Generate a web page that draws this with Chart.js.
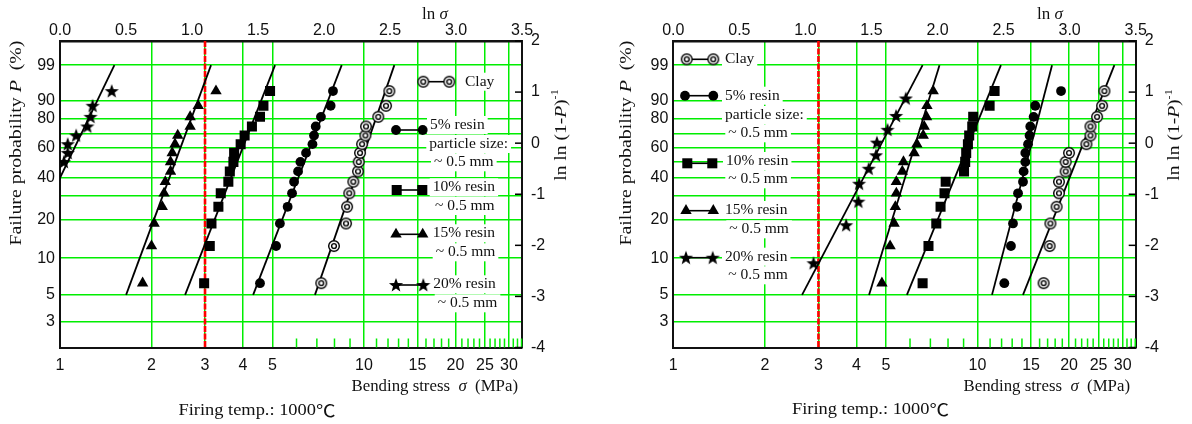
<!DOCTYPE html>
<html>
<head>
<meta charset="utf-8">
<script src="https://cdn.jsdelivr.net/npm/chart.js@4.4.1/dist/chart.umd.min.js"></script>
<style>
    html, body { margin: 0; padding: 0; background: #fff; }
    #wrap { position: relative; width: 1192px; height: 424px; }
    canvas { position: absolute; top: 0; }
    #left { left: 0; }
    #right { left: 596px; }
</style>
</head>
<body>
<div id="wrap">
    <canvas id="left" width="596" height="424"></canvas>
    <canvas id="right" width="596" height="424"></canvas>
</div>
<script>
// failure probability of each rank (%), i/(n+1)
const rank15 = [6.25, 12.5, 18.75, 25, 31.25, 37.5, 43.75, 50, 56.25, 62.5, 68.75, 75, 81.25, 87.5, 93.75];
const rank15Upper = [50, 56.25, 62.5, 68.75, 75, 81.25, 87.5, 93.75];
const rank10 = [9.09, 18.18, 27.27, 36.36, 45.45, 54.55, 63.64, 72.73, 81.82, 90.91];

// fitted lines run from P = 5 % to P = 99 %
const fitP = [5, 99];

// left plot: bending stress (MPa)
const clayLeft = [7.24, 7.97, 8.73, 8.80, 8.95, 9.23, 9.56, 9.61, 9.71, 9.86, 10.11, 10.16, 11.15, 11.82, 12.12];
const resin5Left = [4.55, 5.14, 5.29, 5.61, 5.80, 5.89, 6.07, 6.18, 6.45, 6.77, 6.85, 6.94, 7.22, 7.77, 7.91];
const resin10Left = [2.98, 3.11, 3.15, 3.32, 3.38, 3.58, 3.62, 3.72, 3.74, 3.93, 4.05, 4.28, 4.55, 4.67, 4.91];
const resin15Left = [1.87, 2.00, 2.04, 2.17, 2.20, 2.22, 2.31, 2.31, 2.34, 2.39, 2.44, 2.68, 2.68, 2.85, 3.26];
const resin20Left = [1.03, 1.06, 1.06, 1.13, 1.23, 1.26, 1.28, 1.48];

const clayLeftFit = [6.90, 12.59];
const resin5LeftFit = [4.32, 8.45];
const resin10LeftFit = [2.58, 5.10];
const resin15LeftFit = [1.65, 3.14];
const resin20LeftFit = [0.652, 1.51];

// right plot: bending stress (MPa)
const clayRight = [16.49, 17.26, 17.36, 18.20, 18.53, 18.53, 19.49, 19.49, 19.99, 22.80, 23.52, 23.52, 24.73, 25.68, 26.13];
const resin5Right = [12.25, 12.88, 13.08, 13.49, 13.59, 14.11, 14.18, 14.36, 14.36, 14.66, 14.83, 14.91, 15.29, 15.48, 18.82];
const resin10Right = [6.60, 6.90, 7.32, 7.56, 7.79, 7.86, 9.03, 9.11, 9.18, 9.30, 9.39, 9.61, 9.68, 10.96, 11.38];
const resin15Right = [4.85, 5.16, 5.32, 5.37, 5.41, 5.41, 5.66, 5.71, 6.19, 6.32, 6.63, 6.68, 6.80, 6.82, 7.15];
const resin20Right = [2.89, 3.70, 4.06, 4.08, 4.39, 4.64, 4.67, 5.06, 5.40, 5.81];

const clayRightFit = [14.11, 28.18];
const resin5RightFit = [11.16, 17.58];
const resin10RightFit = [5.86, 11.94];
const resin15RightFit = [4.40, 7.50];
const resin20RightFit = [2.65, 6.60];

// axis ticks
const stressTicks = [1, 2, 3, 4, 5, 10, 15, 20, 25, 30];
const stressMinor = [6, 7, 8, 9, 11, 12, 13, 14, 16, 17, 18, 19, 21, 22, 23, 24, 26, 27, 28, 29, 31, 32, 33];
const probGrid = [99, 90, 80, 70, 60, 50, 40, 30, 20, 10, 5, 3];
const probLabels = [99, 90, 80, 60, 40, 20, 10, 5, 3];
const weibTicks = [-4, -3, -2, -1, 0, 1, 2];
const redLineStress = 3;

const legendText = {
    clay: ["Clay"],
    r5: ["5% resin", "particle size:", "~ 0.5 mm"],
    r10: ["10% resin", "~ 0.5 mm"],
    r15: ["15% resin", "~ 0.5 mm"],
    r20: ["20% resin", "~ 0.5 mm"]
};

const serif = '"Liberation Serif", "Times New Roman", serif';
const sans = '"Liberation Sans", Arial, sans-serif';
const green = "rgb(0, 238, 0)";
const weibull = p => Math.log(-Math.log(1 - p / 100));

function markerCanvas(size, paint) {
    const c = document.createElement("canvas");
    c.width = size;
    c.height = size;
    paint(c.getContext("2d"), size / 2);
    return c;
}

// double ring used for clay
const ringMarker = markerCanvas(14, (g, m) => {
    g.fillStyle = "#fff";
    g.beginPath(); g.arc(m, m, 5.4, 0, Math.PI * 2); g.fill();
    g.strokeStyle = "#000";
    g.lineWidth = 1.4;
    g.beginPath(); g.arc(m, m, 5.3, 0, Math.PI * 2); g.stroke();
    g.beginPath(); g.arc(m, m, 2.4, 0, Math.PI * 2); g.stroke();
});

// filled five-point star
const starMarker = markerCanvas(18, (g, m) => {
    g.fillStyle = "#000";
    g.beginPath();
    for (let i = 0; i < 10; i++) {
        const r = i % 2 ? 3.1 : 7.4;
        const a = -Math.PI / 2 + i * Math.PI / 5;
        g.lineTo(m + r * Math.cos(a), m + 0.5 + r * Math.sin(a));
    }
    g.closePath();
    g.fill();
});

const markers = {
    clay: { style: ringMarker, radius: 6 },
    r5: { style: "circle", radius: 4.9 },
    r10: { style: "rect", radius: 7.1 },
    r15: { style: "triangle", radius: 6.6 },
    r20: { style: starMarker, radius: 7 }
};

function drawRich(ctx, segs, x, y, opts) {
    const size = opts.size;
    const fontOf = kind => {
        if (kind === "i") return `italic ${size}px ${serif}`;
        if (kind === "sup") return `${Math.round(size * 0.62)}px ${serif}`;
        if (kind === "cjk") return `${size + 1}px "Noto Sans CJK SC", ${serif}`;
        return `${size}px ${serif}`;
    };
    ctx.save();
    ctx.translate(x, y);
    if (opts.angle) ctx.rotate(opts.angle);
    ctx.scale(opts.stretch || 1, 1);
    let total = 0;
    const widths = segs.map(([t, kind]) => {
        ctx.font = fontOf(kind);
        const w = ctx.measureText(t).width;
        total += w;
        return w;
    });
    let cx = opts.align === "center" ? -total / 2 : opts.align === "right" ? -total : 0;
    ctx.textAlign = "left";
    ctx.textBaseline = "middle";
    ctx.fillStyle = "#111";
    segs.forEach(([t, kind], i) => {
        ctx.font = fontOf(kind);
        ctx.fillText(t, cx, kind === "sup" ? -size * 0.38 : 0);
        cx += widths[i];
    });
    ctx.restore();
}

function makePanel(canvasId, series, frame, legendPos, labelPos) {
    const datasets = [];
    series.forEach(s => {
        datasets.push({
            data: s.fit.map((v, i) => ({ x: v, y: weibull(fitP[i]) })),
            showLine: true,
            pointRadius: 0,
            borderColor: "#000",
            borderWidth: 1.8,
            order: 1
        });
        datasets.push({
            data: s.sigma.map((v, i) => ({ x: v, y: weibull(s.prob[i]) })),
            pointStyle: markers[s.key].style,
            pointRadius: markers[s.key].radius,
            backgroundColor: "#000",
            borderColor: "#000",
            borderWidth: 0,
            order: 0
        });
    });

    const tickFont = { family: sans, size: 16 };

    // stubs, inner ticks and the red 3 MPa line
    const extras = {
        id: "extras",
        beforeDatasetsDraw(chart) {
            const { ctx, chartArea: a, scales } = chart;
            ctx.save();
            ctx.strokeStyle = green;
            ctx.lineWidth = 1.5;
            stressMinor.forEach(v => {
                const x = scales.x.getPixelForValue(v);
                ctx.beginPath(); ctx.moveTo(x, a.bottom); ctx.lineTo(x, a.bottom - 9); ctx.stroke();
            });
            ctx.strokeStyle = "#000";
            ctx.lineWidth = 1.5;
            weibTicks.forEach(v => {
                const y = scales.y2.getPixelForValue(v);
                ctx.beginPath(); ctx.moveTo(a.right - 7, y); ctx.lineTo(a.right, y); ctx.stroke();
            });
            const xr = scales.x.getPixelForValue(redLineStress);
            ctx.strokeStyle = "#f00";
            ctx.lineWidth = 2.6;
            ctx.setLineDash([6, 1.5]);
            ctx.beginPath(); ctx.moveTo(xr, a.top); ctx.lineTo(xr, a.bottom); ctx.stroke();
            ctx.restore();
        }
    };

    const keyPlugin = {
        id: "seriesKey",
        afterDatasetsDraw(chart) {
            const ctx = chart.ctx;
            ctx.save();
            ctx.textBaseline = "middle";
            series.forEach(s => {
                const [x1, x2, y, lines] = legendPos[s.key];
                ctx.font = `15.5px ${serif}`;
                legendText[s.key].forEach((t, i) => {
                    const [tx, ty] = lines[i];
                    const w = ctx.measureText(t).width;
                    ctx.fillStyle = "#fff";
                    ctx.fillRect(tx - 3, ty - 9, w + 6, 18);
                    ctx.fillStyle = "#111";
                    ctx.fillText(t, tx, ty);
                });
                ctx.strokeStyle = "#000";
                ctx.lineWidth = 1.6;
                ctx.beginPath(); ctx.moveTo(x1, y); ctx.lineTo(x2, y); ctx.stroke();
                ctx.fillStyle = "#000";
                const m = markers[s.key];
                [x1, x2].forEach(x => Chart.helpers.drawPoint(ctx, { pointStyle: m.style, radius: m.radius, rotation: 0, borderWidth: 0 }, x, y));
            });
            ctx.restore();
        }
    };

    const axisTitles = {
        id: "axisTitles",
        afterDraw(chart) {
            const ctx = chart.ctx;
            const p = labelPos;
            drawRich(ctx, [["ln ", "n"], ["σ", "i"]], p.top[0], p.top[1], { size: 16, align: "center", stretch: 1.06 });
            drawRich(ctx, [["Bending stress  ", "n"], ["σ", "i"], ["  (MPa)", "n"]], p.bottom[0], p.bottom[1], { size: 16, align: "right", stretch: 1.05 });
            drawRich(ctx, [["Firing temp.: 1000", "n"], ["℃", "cjk"]], p.firing[0], p.firing[1], { size: 16, align: "center", stretch: 1.15 });
            drawRich(ctx, [["Failure probability ", "n"], ["P", "i"], ["  (%)", "n"]], p.yLeft[0], p.yLeft[1], { size: 16, align: "center", angle: -Math.PI / 2, stretch: 1.24 });
            drawRich(ctx, [["ln ln (1-", "n"], ["P", "i"], [")", "n"], ["-1", "sup"]], p.yRight[0], p.yRight[1], { size: 16, align: "center", angle: -Math.PI / 2, stretch: 1.22 });
        }
    };

    new Chart(document.getElementById(canvasId), {
        type: "scatter",
        data: { datasets },
        options: {
            responsive: false,
            animation: false,
            devicePixelRatio: 1,
            layout: { padding: 0, autoPadding: false },
            plugins: { legend: { display: false }, tooltip: { enabled: false } },
            scales: {
                x: {
                    type: "logarithmic",
                    position: "bottom",
                    min: 1,
                    max: Math.exp(3.5),
                    afterBuildTicks: sc => { sc.ticks = stressTicks.map(v => ({ value: v })); },
                    afterFit: sc => { sc.height = frame.bottom; },
                    ticks: { callback: v => String(v), font: tickFont, color: "#111", padding: 8, autoSkip: false, maxRotation: 0 },
                    grid: {
                        color: c => (c.tick && c.tick.value === 1 ? "rgba(0,0,0,0)" : green),
                        lineWidth: 1.5,
                        drawTicks: false
                    },
                    border: { color: "#111", width: 2 }
                },
                x2: {
                    type: "linear",
                    position: "top",
                    min: 0,
                    max: 3.5,
                    afterFit: sc => { sc.height = frame.top; },
                    ticks: { stepSize: 0.5, callback: v => v.toFixed(1), font: tickFont, color: "#111", padding: 1, autoSkip: false, maxRotation: 0 },
                    grid: { display: false, drawTicks: false },
                    border: { color: "#111", width: 2.5 }
                },
                y: {
                    type: "linear",
                    position: "left",
                    min: -4,
                    max: 2,
                    afterBuildTicks: sc => { sc.ticks = probGrid.map(p => ({ value: weibull(p) })); },
                    afterFit: sc => { sc.width = frame.left; },
                    ticks: {
                        callback: (v, i) => (probLabels.includes(probGrid[i]) ? String(probGrid[i]) : ""),
                        font: tickFont, color: "#111", padding: 5, autoSkip: false
                    },
                    grid: { color: green, lineWidth: 1.5, drawTicks: false },
                    border: { color: "#111", width: 2 }
                },
                y2: {
                    type: "linear",
                    position: "right",
                    min: -4,
                    max: 2,
                    afterBuildTicks: sc => { sc.ticks = weibTicks.map(v => ({ value: v })); },
                    afterFit: sc => { sc.width = frame.right; },
                    ticks: { callback: v => String(v), font: tickFont, color: "#111", padding: 9, autoSkip: false },
                    grid: { display: false, drawTicks: false },
                    border: { color: "#111", width: 2 }
                }
            }
        },
        plugins: [extras, keyPlugin, axisTitles]
    });
}

makePanel("left", [
    { key: "clay", sigma: clayLeft, prob: rank15, fit: clayLeftFit },
    { key: "r5", sigma: resin5Left, prob: rank15, fit: resin5LeftFit },
    { key: "r10", sigma: resin10Left, prob: rank15, fit: resin10LeftFit },
    { key: "r15", sigma: resin15Left, prob: rank15, fit: resin15LeftFit },
    { key: "r20", sigma: resin20Left, prob: rank15Upper, fit: resin20LeftFit }
], { left: 60, right: 74, top: 41, bottom: 76.5 }, {
    clay: [423.3, 449.3, 81.7, [[465, 81.7]]],
    r5: [396, 422.7, 130, [[430, 125], [429.3, 144], [434, 162.3]]],
    r10: [396.7, 422.3, 190, [[432.7, 187.3], [435, 206]]],
    r15: [396, 422.7, 234.3, [[432.7, 233.3], [435.7, 252.3]]],
    r20: [396, 423.3, 285, [[433.3, 284.3], [437.7, 303.3]]]
}, { top: [435, 14.3], bottom: [518, 387], firing: [257, 410.5], yLeft: [17, 143], yRight: [561.7, 135] });

makePanel("right", [
    { key: "clay", sigma: clayRight, prob: rank15, fit: clayRightFit },
    { key: "r5", sigma: resin5Right, prob: rank15, fit: resin5RightFit },
    { key: "r10", sigma: resin10Right, prob: rank15, fit: resin10RightFit },
    { key: "r15", sigma: resin15Right, prob: rank15, fit: resin15RightFit },
    { key: "r20", sigma: resin20Right, prob: rank10, fit: resin20RightFit }
], { left: 77.3, right: 56.3, top: 41, bottom: 76.5 }, {
    clay: [90.7, 117.3, 59.3, [[129, 59.3]]],
    r5: [89, 117.3, 95.7, [[129, 95.7], [129, 115], [132.3, 133.3]]],
    r10: [91.3, 116.3, 163.3, [[130, 161], [132.3, 179.3]]],
    r15: [90, 117.3, 210.7, [[129, 210], [133.3, 229.3]]],
    r20: [90, 116.7, 257.7, [[129, 256.7], [132.3, 275.3]]]
}, { top: [454, 14.3], bottom: [534, 387], firing: [274.5, 410], yLeft: [31, 143], yRight: [579, 135] });
</script>
</body>
</html>
